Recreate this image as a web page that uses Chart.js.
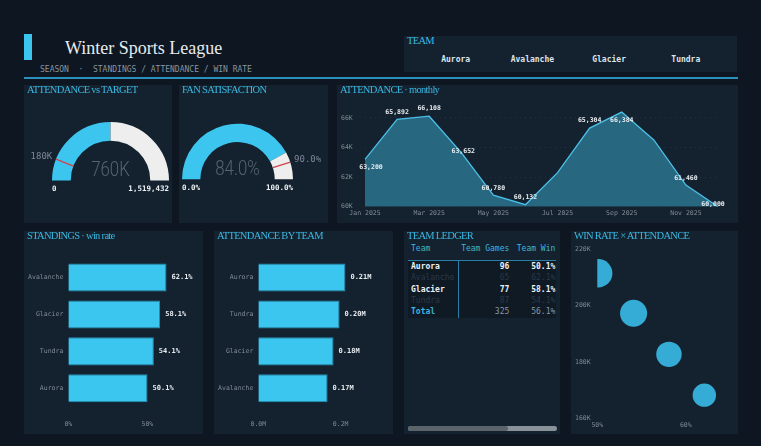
<!DOCTYPE html>
<html>
<head>
<meta charset="utf-8">
<script src="https://cdn.jsdelivr.net/npm/chart.js@4.4.1/dist/chart.umd.min.js"></script>
<style>
body { margin:0; width:761px; height:446px; overflow:hidden; position:relative; background:#0e1721; font-family:'DejaVu Sans Mono', monospace; }
.panel { position:absolute; background:#14222f; }
.ttl { position:absolute; left:3px; top:-1px; font-family:'Liberation Serif', serif; font-size:10.5px; line-height:12px; letter-spacing:-0.7px; color:#3ab8e2; white-space:nowrap; z-index:2; }
canvas { position:absolute; left:0; top:0; }
.abs { position:absolute; white-space:pre; }
</style>
</head>
<body>

<div class="abs" style="left:24px;top:34px;width:8px;height:26px;background:#3ac4ee;"></div>
<div class="abs" style="left:65px;top:39px;font-family:'Liberation Serif',serif;font-size:18px;line-height:18px;color:#e6ecf0;">Winter Sports League</div>
<div class="abs" style="left:40px;top:65px;font-size:8px;line-height:10px;color:#8595a3;">SEASON  ·  STANDINGS / ATTENDANCE / WIN RATE</div>
<div class="abs" style="left:24px;top:77px;width:714px;height:1.5px;background:#2a8fba;"></div>

<div class="panel" id="teamPanel" style="left:404px;top:36px;width:333px;height:36px;">
  <div class="ttl">TEAM</div>
</div>

<div class="panel" style="left:24px;top:85px;width:148px;height:138px;">
  <div class="ttl">ATTENDANCE vs TARGET</div>
  <canvas id="gaugeAttendance" width="148" height="138"></canvas>
</div>
<div class="panel" style="left:179px;top:85px;width:149px;height:138px;">
  <div class="ttl">FAN SATISFACTION</div>
  <canvas id="gaugeFans" width="149" height="138"></canvas>
</div>
<div class="panel" style="left:337px;top:85px;width:401px;height:138px;">
  <div class="ttl">ATTENDANCE · monthly</div>
  <canvas id="monthlyChart" width="401" height="138"></canvas>
</div>

<div class="panel" style="left:24px;top:231px;width:179px;height:203px;">
  <div class="ttl">STANDINGS · win rate</div>
  <canvas id="standingsChart" width="179" height="203"></canvas>
</div>
<div class="panel" style="left:214px;top:231px;width:179px;height:203px;">
  <div class="ttl">ATTENDANCE BY TEAM</div>
  <canvas id="teamAttChart" width="179" height="203"></canvas>
</div>
<div class="panel" id="ledger" style="left:404px;top:231px;width:156px;height:203px;">
  <div class="ttl">TEAM LEDGER</div>
</div>
<div class="panel" style="left:571px;top:231px;width:167px;height:203px;">
  <div class="ttl">WIN RATE × ATTENDANCE</div>
  <canvas id="bubbleChart" width="167" height="203"></canvas>
</div>

<script>
var teams = ['Aurora', 'Avalanche', 'Glacier', 'Tundra'];
var teamGames = [96, 65, 77, 87];
var teamWinRate = [50.1, 62.1, 58.1, 54.1];
var teamAttendance = [211500, 168216, 182700, 197300];

var months = ['Jan 2025', 'Feb 2025', 'Mar 2025', 'Apr 2025', 'May 2025', 'Jun 2025',
              'Jul 2025', 'Aug 2025', 'Sep 2025', 'Oct 2025', 'Nov 2025', 'Dec 2025'];
var monthlyAttendance = [63200, 65892, 66108, 63652, 60780, 60132, 62300, 65304, 66384, 64504, 61460, 60000];

var attendanceGaugeMax = 1519432;
var attendanceTarget = 180000;
var fanSatisfaction = 84.0;
var fanTarget = 90.0;

// tick values shown on the axes
var monthlyTicks = [60000, 62000, 64000, 66000];
var winRateTicks = [0, 50];
var teamAttTicks = [0, 200000];
var bubbleWinTicks = [50, 60];
var bubbleAttTicks = [160000, 180000, 200000, 220000];

var MONO = 'DejaVu Sans Mono';
var tickColor = '#7f8b96';

function sum(arr) { return arr.reduce(function(a, b) { return a + b; }, 0); }
var totalAttendance = sum(teamAttendance);
var totalGames = sum(teamGames);
var avgWinRate = sum(teamWinRate) / teamWinRate.length;

function useTicks(values) {
    return function(s) { s.ticks = values.map(function(v) { return { value: v }; }); };
}
// fixed axis size, no extra label padding
function fixWidth(w) { return function(s) { s.width = w; s.paddingTop = 0; s.paddingBottom = 0; }; }
function fixHeight(h) { return function(s) { s.height = h; s.paddingLeft = 0; s.paddingRight = 0; }; }

// team strip
var strip = document.getElementById('teamPanel');
for (let i = 0; i < teams.length; i++) {
    var d = document.createElement('div');
    d.className = 'abs';
    d.style.cssText = 'left:' + (51.7 + i * 76.7 - 40) + 'px;width:80px;text-align:center;top:19px;font-size:8px;line-height:10px;font-weight:bold;color:#dfe5ea;';
    d.textContent = teams[i];
    strip.appendChild(d);
}

// ledger table
var ledger = document.getElementById('ledger');
function cell(txt, left, right, top, style) {
    var d = document.createElement('div');
    d.className = 'abs';
    var pos = right != null ? 'right:' + right + 'px;' : 'left:' + left + 'px;';
    d.style.cssText = pos + 'top:' + top + 'px;font-size:8px;line-height:10px;' + style;
    d.textContent = txt;
    ledger.appendChild(d);
}
ledger.insertAdjacentHTML('beforeend',
    '<div class="abs" style="left:4px;top:30px;width:148px;height:57px;background:#0f1a25;"></div>' +
    '<div class="abs" style="left:4px;top:29px;width:148px;height:1px;background:#2a7ea6;"></div>' +
    '<div class="abs" style="left:54px;top:30px;width:1px;height:57px;background:#2a7ea6;"></div>' +
    '<div class="abs" style="left:4px;top:195px;width:149px;height:5px;border-radius:3px;background:#8a9299;"></div>' +
    '<div class="abs" style="left:4px;top:195px;width:100px;height:5px;border-radius:3px;background:#5b636b;"></div>');
cell('Team', 7, null, 13, 'color:#3cb6de;');
cell('Team Games', null, 156 - 105.3, 13, 'color:#3cb6de;');
cell('Team Win', null, 156 - 151.3, 13, 'color:#3cb6de;');
for (let i = 0; i < teams.length; i++) {
    var y = 31 + i * 11.25;
    var st = (i % 2 === 0) ? 'font-weight:bold;color:#eef2f5;' : 'color:#2a3845;';
    cell(teams[i], 7, null, y, st);
    cell(String(teamGames[i]), null, 156 - 105.3, y, st);
    cell(teamWinRate[i].toFixed(1) + '%', null, 156 - 151.3, y, st);
}
cell('Total', 7, null, 76, 'font-weight:bold;color:#3cb6de;');
cell(String(totalGames), null, 156 - 105.3, 76, 'color:#8c97a2;');
cell(avgWinRate.toFixed(1) + '%', null, 156 - 151.3, 76, 'color:#8c97a2;');

// gauges
function gaugePlugin(o) {
    return {
        id: 'gaugeText',
        afterDraw: function(chart) {
            var arc = chart.getDatasetMeta(0).data[0];
            var ctx = chart.ctx;
            var cx = arc.x, cy = arc.y, ro = arc.outerRadius, ri = arc.innerRadius;
            var a = Math.PI + o.targetFrac * Math.PI;
            ctx.save();
            ctx.strokeStyle = '#d2434a';
            ctx.lineWidth = 1.3;
            ctx.beginPath();
            ctx.moveTo(cx + ri * Math.cos(a), cy + ri * Math.sin(a));
            ctx.lineTo(cx + ro * Math.cos(a), cy + ro * Math.sin(a));
            ctx.stroke();

            ctx.font = '9px "' + MONO + '"';
            ctx.fillStyle = '#7b8794';
            ctx.textBaseline = 'middle';
            ctx.textAlign = Math.cos(a) < 0 ? 'right' : 'left';
            ctx.fillText(o.targetLabel, cx + (ro + 4) * Math.cos(a), cy + (ro + 4) * Math.sin(a) - 1.5);

            ctx.font = 'bold 7.5px "' + MONO + '"';
            ctx.fillStyle = '#eef2f5';
            ctx.textAlign = 'left';
            ctx.fillText(o.minLabel, cx - ro, cy + 8.5);
            ctx.textAlign = 'right';
            ctx.fillText(o.maxLabel, cx + ro, cy + 8.5);

            ctx.font = '300 21px Roboto';
            ctx.fillStyle = '#56636f';
            ctx.textAlign = 'center';
            ctx.translate(cx, cy - 9.5);
            ctx.scale(0.8, 1);
            ctx.fillText(o.valueLabel, 0, 0);
            ctx.restore();
        }
    };
}

function makeGauge(id, values, cutout, padding, labels) {
    new Chart(document.getElementById(id), {
        type: 'doughnut',
        data: { datasets: [{ data: values, backgroundColor: ['#3cc5ef', '#eeeeee'], borderWidth: 0, hoverBorderWidth: 0 }] },
        options: {
            responsive: false, animation: false, devicePixelRatio: 1,
            rotation: -90, circumference: 180, cutout: cutout,
            layout: { padding: padding, autoPadding: false },
            plugins: { legend: { display: false }, tooltip: { enabled: false } }
        },
        plugins: [gaugePlugin(labels)]
    });
}

makeGauge('gaugeAttendance', [totalAttendance, attendanceGaugeMax - totalAttendance], '68%',
    { left: 28, right: 3, top: 37, bottom: 42.5 },
    { targetFrac: attendanceTarget / attendanceGaugeMax, targetLabel: Math.round(attendanceTarget / 1000) + 'K',
      minLabel: '0', maxLabel: attendanceGaugeMax.toLocaleString('en-US'),
      valueLabel: Math.round(totalAttendance / 1000) + 'K' });

makeGauge('gaugeFans', [fanSatisfaction, 100 - fanSatisfaction], '67%',
    { left: 3, right: 35, top: 38.7, bottom: 43.8 },
    { targetFrac: fanTarget / 100, targetLabel: fanTarget.toFixed(1) + '%',
      minLabel: '0.0%', maxLabel: '100.0%', valueLabel: fanSatisfaction.toFixed(1) + '%' });

// monthly line
var lineLabelShift = [[6, 8], [0, -7], [0, -7.5], [2, -1], [0, -7], [0, -7], null, [0, -7.5], [0, 8.5], null, [0, -6.5], [-5, -2]];
var lineLabels = {
    id: 'lineLabels',
    afterDatasetsDraw: function(chart) {
        var ctx = chart.ctx;
        var pts = chart.getDatasetMeta(0).data;
        ctx.save();
        ctx.font = 'bold 6.5px "' + MONO + '"';
        ctx.fillStyle = '#e8edf1';
        ctx.textAlign = 'center';
        ctx.textBaseline = 'middle';
        pts.forEach(function(p, i) {
            var s = lineLabelShift[i];
            if (!s) return;
            ctx.fillText(monthlyAttendance[i].toLocaleString('en-US'), p.x + s[0], p.y + s[1]);
        });
        ctx.restore();
    }
};

new Chart(document.getElementById('monthlyChart'), {
    type: 'line',
    data: {
        labels: months,
        datasets: [{ data: monthlyAttendance, borderColor: '#4cc0e8', borderWidth: 1.3,
                     backgroundColor: '#27677f', fill: 'start', pointRadius: 0, tension: 0 }]
    },
    options: {
        responsive: false, animation: false, devicePixelRatio: 1,
        layout: { padding: { left: 4, right: 20, top: 18, bottom: 0 }, autoPadding: false },
        plugins: { legend: { display: false }, tooltip: { enabled: false } },
        scales: {
            x: {
                grid: { display: false, drawTicks: false }, border: { display: false },
                ticks: { autoSkip: false, maxRotation: 0, padding: 3, color: tickColor, font: { family: MONO, size: 6.5 },
                         callback: function(v, i) { return i % 2 === 0 ? this.getLabelForValue(v) : ''; } },
                afterFit: fixHeight(16.3)
            },
            y: {
                min: 60000, max: 67000,
                afterBuildTicks: useTicks(monthlyTicks),
                grid: { color: 'rgba(150,170,190,0.13)', drawTicks: false }, border: { display: false, dash: [1, 4] },
                ticks: { crossAlign: 'far', color: tickColor, font: { family: MONO, size: 6.5 },
                         callback: function(v) { return (v / 1000) + 'K'; } },
                afterFit: fixWidth(24)
            }
        }
    },
    plugins: [lineLabels]
});

// horizontal bars
function barLabels(fmt) {
    return {
        id: 'barLabels',
        afterDatasetsDraw: function(chart) {
            var ctx = chart.ctx;
            var vals = chart.data.datasets[0].data;
            ctx.save();
            ctx.font = 'bold 7px "' + MONO + '"';
            ctx.fillStyle = '#e6ebef';
            ctx.textAlign = 'left';
            ctx.textBaseline = 'middle';
            chart.getDatasetMeta(0).data.forEach(function(b, i) { ctx.fillText(fmt(vals[i]), b.x + 5, b.y); });
            ctx.restore();
        }
    };
}

function makeBars(id, labels, values, max, tickValues, rightPad, tickFmt, valFmt) {
    new Chart(document.getElementById(id), {
        type: 'bar',
        data: { labels: labels, datasets: [{ data: values, backgroundColor: '#3bc6f0', borderColor: '#2590b8',
                borderWidth: 1, barPercentage: 0.95, categoryPercentage: 0.8 }] },
        options: {
            indexAxis: 'y', responsive: false, animation: false, devicePixelRatio: 1,
            layout: { padding: { left: 4, right: rightPad, top: 28, bottom: 0 }, autoPadding: false },
            plugins: { legend: { display: false }, tooltip: { enabled: false } },
            scales: {
                x: {
                    min: 0, max: max,
                    afterBuildTicks: useTicks(tickValues),
                    grid: { display: false, drawTicks: false }, border: { display: false },
                    ticks: { padding: 14, color: tickColor, font: { family: MONO, size: 6.5 }, callback: tickFmt },
                    afterFit: fixHeight(27.2)
                },
                y: {
                    grid: { display: false, drawTicks: false }, border: { display: false },
                    ticks: { padding: 5, color: tickColor, font: { family: MONO, size: 6.5 } },
                    afterFit: fixWidth(40.3)
                }
            }
        },
        plugins: [barLabels(valFmt)]
    });
}

var byWin = teams.map(function(t, i) { return i; }).sort(function(a, b) { return teamWinRate[b] - teamWinRate[a]; });
makeBars('standingsChart', byWin.map(function(i) { return teams[i]; }), byWin.map(function(i) { return teamWinRate[i]; }),
    70, winRateTicks, 24, function(v) { return v + '%'; }, function(v) { return v.toFixed(1) + '%'; });

var byAtt = teams.map(function(t, i) { return i; }).sort(function(a, b) { return teamAttendance[b] - teamAttendance[a]; });
makeBars('teamAttChart', byAtt.map(function(i) { return teams[i]; }), byAtt.map(function(i) { return teamAttendance[i]; }),
    250000, teamAttTicks, 31.7, function(v) { return (v / 1e6).toFixed(1) + 'M'; }, function(v) { return (v / 1e6).toFixed(2) + 'M'; });

// bubble
new Chart(document.getElementById('bubbleChart'), {
    type: 'bubble',
    data: {
        datasets: [{
            data: teams.map(function(t, i) { return { x: teamWinRate[i], y: teamAttendance[i], r: 1.45 * Math.sqrt(teamGames[i]) }; }),
            backgroundColor: '#35acd6', borderWidth: 0, clip: 0
        }]
    },
    options: {
        responsive: false, animation: false, devicePixelRatio: 1,
        layout: { padding: { left: 4, right: 8, top: 18.3, bottom: 0 }, autoPadding: false },
        plugins: { legend: { display: false }, tooltip: { enabled: false } },
        scales: {
            x: {
                min: 50, max: 65,
                afterBuildTicks: useTicks(bubbleWinTicks),
                grid: { display: false, drawTicks: false }, border: { display: false },
                ticks: { padding: 2.7, color: tickColor, font: { family: MONO, size: 6.5 }, callback: function(v) { return v + '%'; } },
                afterFit: fixHeight(15.7)
            },
            y: {
                min: 160000, max: 220000,
                afterBuildTicks: useTicks(bubbleAttTicks),
                ticks: { crossAlign: 'far', color: tickColor,
                    font: { family: MONO, size: 6.5 }, callback: function(v) { return (v / 1000) + 'K'; } },
                grid: { display: false, drawTicks: false }, border: { display: false },
                afterFit: fixWidth(22.3)
            }
        }
    }
});
</script>
</body>
</html>
